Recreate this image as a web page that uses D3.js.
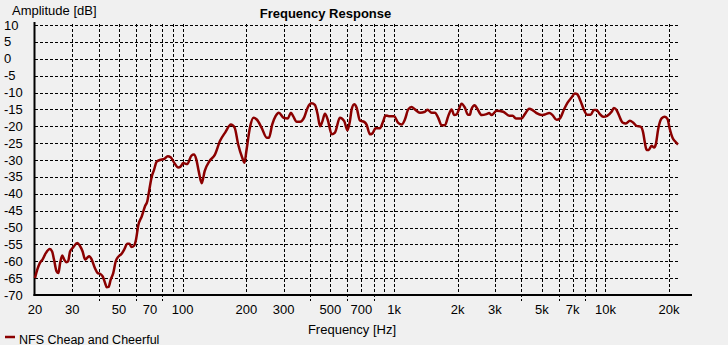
<!DOCTYPE html>
<html>
<head>
<meta charset="utf-8">
<script src="https://cdn.jsdelivr.net/npm/d3@7"></script>
<style>
  html, body { margin: 0; padding: 0; background: #f0f0f0; }
  svg { display: block; font-family: "Liberation Sans", Arial, sans-serif; }
</style>
</head>
<body>
<div id="chart"></div>
<script>
const freqs = [20, 20.5, 21.1, 21.7, 22.5, 23.5, 24.1, 24.6, 25.3, 25.8, 26.3, 26.9, 27.5, 28.2, 28.7, 29.3,
  30.3, 31.7, 32.6, 33.6, 34.5, 35.3, 36.1, 37.1, 38.4, 39.6, 40.6, 41.8, 42.9, 43.7, 44.6, 45.6,
  46.9, 48.2, 49.5, 51.4, 52.9, 54.7, 55.9, 57.3, 58.8, 60.1, 61.6, 64, 66.3, 68, 69.5, 71.3,
  73.1, 75.3, 78, 81.8, 84.9, 87.7, 90.9, 95.2, 97.8, 100.6, 105, 110, 113, 116, 119, 123,
  127, 134, 142, 150, 159, 169, 176, 183, 191.5, 196, 200, 208, 216, 224, 236, 250,
  256, 265, 275, 285, 300, 314, 325, 333, 346, 359, 376, 390, 407, 422, 435, 446,
  457, 471, 485, 507, 525, 554, 581, 602, 618, 630, 648, 665, 689, 722, 741, 769,
  788, 818, 857, 888, 912, 945, 1000, 1046, 1086, 1125, 1167, 1210, 1255, 1325, 1400, 1441,
  1505, 1560, 1618, 1678, 1740, 1804, 1871, 1925, 1977, 2026, 2086, 2164, 2229, 2284, 2320, 2410,
  2475, 2596, 2740, 2820, 2890, 3055, 3284, 3505, 3640, 3770, 4010, 4160, 4357, 4520, 4722, 4988,
  5226, 5420, 5623, 5876, 6090, 6362, 6622, 6915, 7170, 7347, 7624, 7909, 8200, 8510, 8813, 9080,
  9414, 9760, 10190, 10690, 10966, 11290, 11616, 12050, 12490, 13050, 13520, 14030, 14660, 15090, 15370, 15660,
  16050, 16524, 17006, 17323, 17765, 18435, 19100, 19680, 20176, 20775, 21300, 22050];

const amplitude = [-65, -62.5, -60.5, -59.5, -57.6, -56.4, -57.1, -59.5, -63, -63.5, -60.5, -58.3, -59.5, -60.3, -60, -57.1,
  -55.9, -54.6, -55.4, -57.1, -59.5, -59, -58.5, -59.5, -62, -63.5, -63.7, -64.5, -66.4, -67.7, -67.6, -65.5,
  -63.5, -60, -58.7, -57.8, -56.5, -54.8, -54.8, -55.8, -55.4, -53.6, -49.4, -46.7, -43.7, -42.2, -38.8, -35,
  -33, -30.5, -30, -29.7, -28.9, -29.2, -30.7, -32.2, -31.9, -30.9, -31.2, -28.7, -28.4, -29.9, -33.3, -36.9,
  -33.3, -30.3, -28.4, -24.4, -21.8, -19.5, -20.4, -25.4, -29.4, -30.8, -27.4, -20.4, -17.5, -18, -20.4, -23.4,
  -23.4, -19.5, -17, -16, -17.5, -17.7, -16, -17, -18.7, -18.7, -17.3, -14.5, -13.2, -13.7, -16.5, -20,
  -18.7, -16.3, -18, -22.4, -21.9, -17.5, -18.5, -21.2, -18.5, -15, -13.5, -14.5, -18.3, -18.7, -19.5, -22.4,
  -22.2, -20.6, -20.6, -18.5, -16.8, -17, -17, -19, -19.5, -18, -15, -14.3, -15, -16, -15.7, -15.1,
  -16, -16, -17.5, -19.7, -19.7, -17, -15, -16.7, -16.5, -15, -13.3, -14.5, -16.5, -16.6, -15, -13.8,
  -14.8, -16.7, -16.4, -16.1, -16.7, -15.4, -15.7, -16.9, -16.9, -17.7, -17.7, -16.4, -14.8, -15.2, -16.1, -16.7,
  -16.4, -16.1, -16.7, -18.1, -17.7, -15.1, -13, -11.5, -10.3, -10.5, -12.5, -15.1, -16.6, -16.6, -15.2, -15.2,
  -16.4, -17.2, -16.9, -15.7, -14.6, -15.2, -16.9, -18.9, -19.2, -18.4, -18.9, -19.9, -20.1, -21.9, -24.9, -27,
  -27, -25.8, -26.3, -25.3, -20.9, -17.7, -17.2, -17.9, -20.9, -23.4, -24.4, -25.4];

const xTickValues = [20, 30, 50, 70, 100, 200, 300, 500, 700, 1000, 2000, 3000, 5000, 7000, 10000, 20000];
const xTickLabels = ["20", "30", "50", "70", "100", "200", "300", "500", "700", "1k", "2k", "3k", "5k", "7k", "10k", "20k"];
const yTickValues = [10, 5, 0, -5, -10, -15, -20, -25, -30, -35, -40, -45, -50, -55, -60, -65, -70];
const seriesName = "NFS Cheap and Cheerful";

const W = 728, H = 345;
const plot = { left: 35, right: 678, top: 25, bottom: 295, axisEnd: 692 };

const svg = d3.select("#chart").append("svg")
  .attr("width", W)
  .attr("height", H);

const x = d3.scaleLog().domain([20, 22050]).range([plot.left, plot.right]);
const y = d3.scaleLinear().domain([-70, 10]).range([plot.bottom, plot.top]);

const px = v => Math.round(x(v)) + 0.5;
const py = v => Math.round(y(v)) + 0.5;

// Grid
const grid = svg.append("g")
  .attr("stroke", "#000")
  .attr("stroke-width", 1)
  .attr("stroke-dasharray", "3,2")
  .attr("shape-rendering", "crispEdges");

grid.selectAll(".hg")
  .data(yTickValues.filter(d => d > -70))
  .enter().append("line")
  .attr("x1", plot.left).attr("x2", plot.right)
  .attr("y1", d => py(d)).attr("y2", d => py(d));

const gridFreqs = x.ticks().filter(d => d > 20 && d <= 20000);
grid.selectAll(".vg")
  .data(gridFreqs)
  .enter().append("line")
  .attr("x1", d => px(d)).attr("x2", d => px(d))
  .attr("y1", plot.top - 1)
  .attr("y2", d => {
    const m = d / Math.pow(10, Math.floor(Math.log10(d) + 1e-9));
    return (Math.round(m) === 4 || Math.round(m) === 6 || Math.round(m) === 8) ? plot.bottom + 6 : plot.bottom;
  });

// Axes lines
svg.append("line")
  .attr("x1", plot.left - 0.5).attr("x2", plot.left - 0.5)
  .attr("y1", plot.top - 3).attr("y2", plot.bottom + 1)
  .attr("stroke", "#000").attr("stroke-width", 2);
svg.append("line")
  .attr("x1", plot.left - 1.5).attr("x2", plot.axisEnd)
  .attr("y1", plot.bottom).attr("y2", plot.bottom)
  .attr("stroke", "#000").attr("stroke-width", 2);

// Tick labels
svg.append("g").selectAll("text")
  .data(yTickValues)
  .enter().append("text")
  .attr("x", 4)
  .attr("y", d => y(d) + 4.5)
  .attr("font-size", 13)
  .attr("fill", "#000")
  .text(d => d);

svg.append("g").selectAll("text")
  .data(xTickValues)
  .enter().append("text")
  .attr("x", d => x(d))
  .attr("y", 314)
  .attr("text-anchor", "middle")
  .attr("font-size", 13)
  .attr("fill", "#000")
  .text((d, i) => xTickLabels[i]);

// Titles
svg.append("text")
  .attr("x", 325.5).attr("y", 17.5)
  .attr("text-anchor", "middle")
  .attr("font-size", 13).attr("font-weight", "bold")
  .text("Frequency Response");

svg.append("text")
  .attr("x", 12).attr("y", 14.5)
  .attr("font-size", 13)
  .text("Amplitude [dB]");

svg.append("text")
  .attr("x", 352).attr("y", 333.5)
  .attr("text-anchor", "middle")
  .attr("font-size", 13)
  .text("Frequency [Hz]");

// Response curve
const points = freqs.map((f, i) => [f, amplitude[i]]);
const line = d3.line()
  .x(d => x(d[0]))
  .y(d => y(d[1]))
  .curve(d3.curveMonotoneX);

svg.append("path")
  .datum(points)
  .attr("fill", "none")
  .attr("stroke", "#8b0000")
  .attr("stroke-width", 2.5)
  .attr("stroke-linejoin", "round")
  .attr("d", line);

// Legend
svg.append("line")
  .attr("x1", 5).attr("x2", 15)
  .attr("y1", 337).attr("y2", 337)
  .attr("stroke", "#8b0000").attr("stroke-width", 2.5);
svg.append("text")
  .attr("x", 19).attr("y", 344)
  .attr("font-size", 12.5)
  .text(seriesName);
</script>
</body>
</html>
